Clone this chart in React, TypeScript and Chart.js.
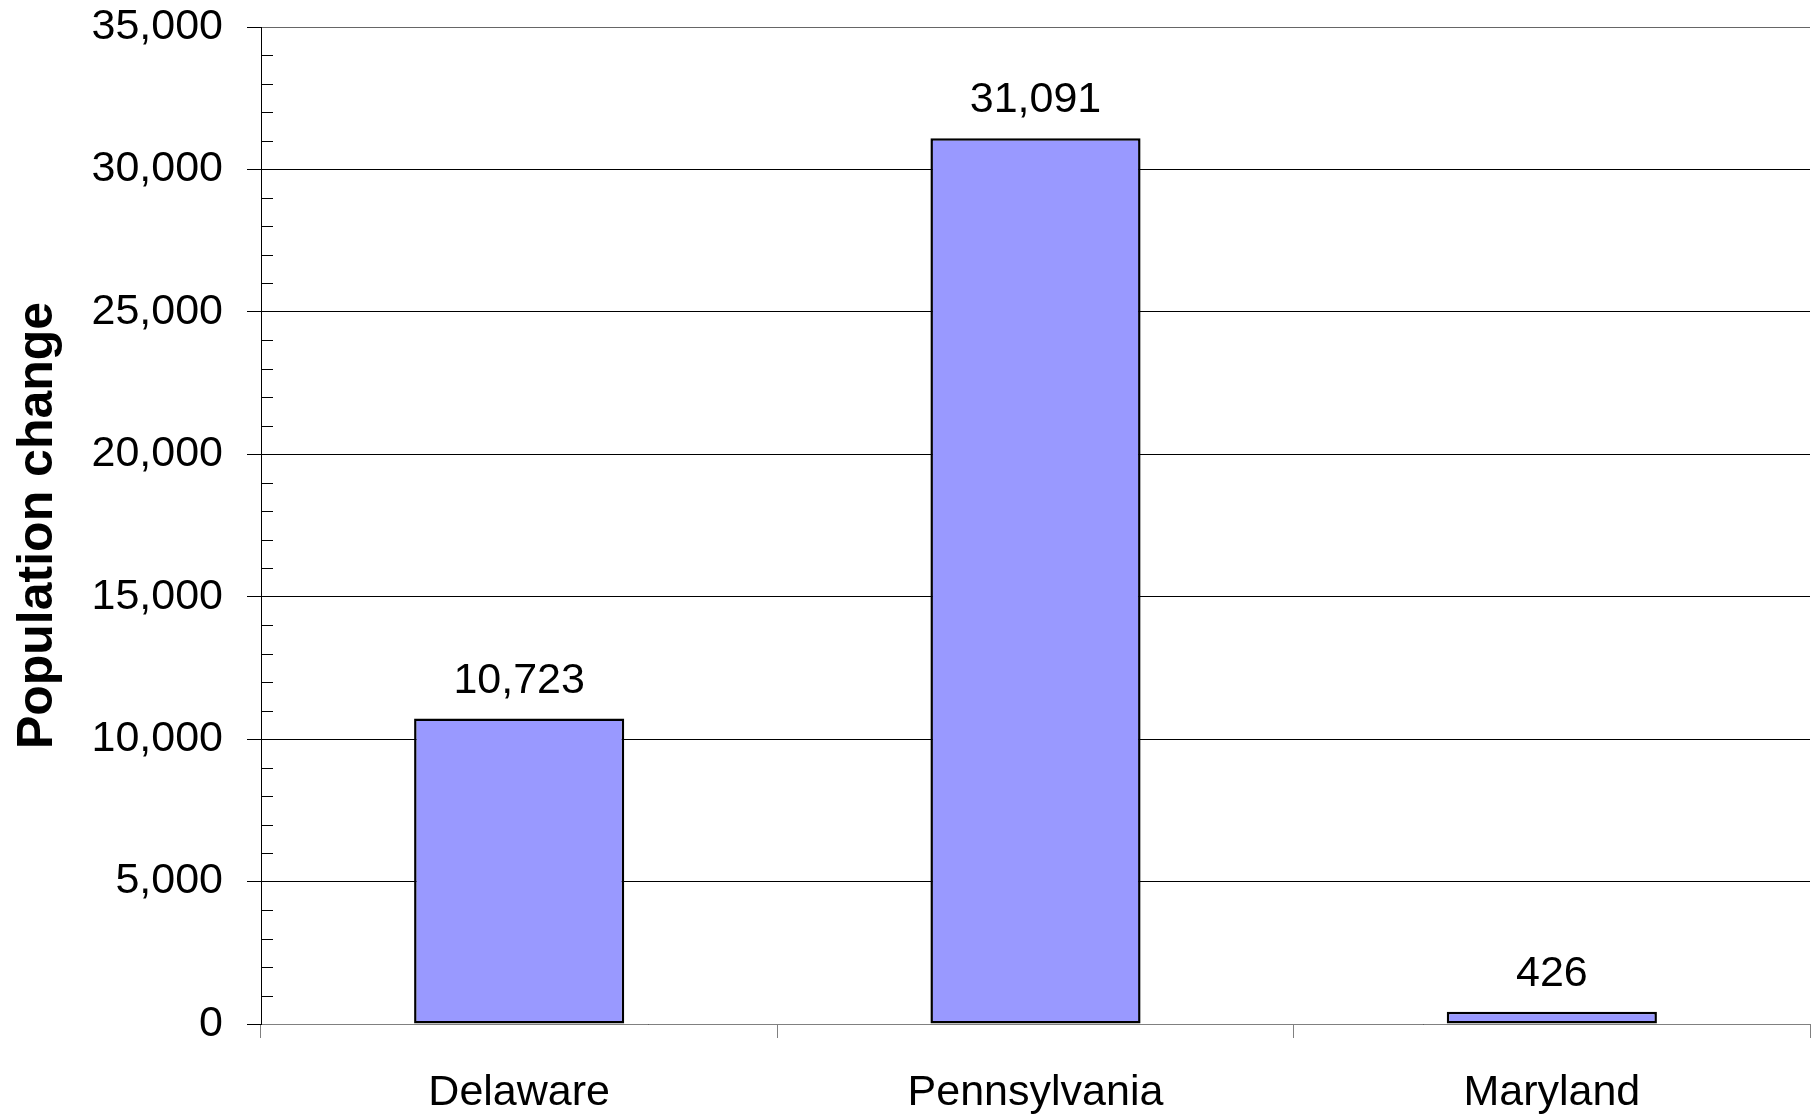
import React, { useEffect, useRef } from "react";
import { Chart, registerables } from "chart.js";

Chart.register(...registerables);

const categories = ["Delaware", "Pennsylvania", "Maryland"];
const populationChange = [10723, 31091, 426];
const yMin = 0;
const yMax = 35000;
const majorStep = 5000;
const minorStep = 1000;

const FONT = '"Liberation Sans", Arial, sans-serif';

const fmt = (v: number) => v.toLocaleString("en-US");

const dataLabelsPlugin = {
  id: "dataLabels",
  afterDatasetsDraw(chart: any) {
    const ctx = chart.ctx;
    const meta = chart.getDatasetMeta(0);
    ctx.save();
    ctx.font = `43px ${FONT}`;
    ctx.fillStyle = "#000";
    ctx.textAlign = "center";
    ctx.textBaseline = "alphabetic";
    meta.data.forEach((bar: any, i: number) => {
      const v = chart.data.datasets[0].data[i];
      ctx.fillText(fmt(v), bar.x, bar.y - 26);
    });
    ctx.restore();
  },
};

const minorTicksPlugin = {
  id: "minorTicks",
  afterDraw(chart: any) {
    const y = chart.scales.y;
    const ctx = chart.ctx;
    const left = chart.chartArea.left;
    ctx.save();
    ctx.strokeStyle = "#000";
    ctx.lineWidth = 1;
    ctx.beginPath();
    for (let v = yMin; v <= yMax; v += minorStep) {
      if (v % majorStep === 0) continue;
      const py = Math.round(y.getPixelForValue(v)) + 0.5;
      ctx.moveTo(left, py);
      ctx.lineTo(left + 12, py);
    }
    ctx.stroke();
    ctx.restore();
  },
};

export default function App() {
  const ref = useRef<HTMLCanvasElement | null>(null);

  useEffect(() => {
    if (!ref.current) return;
    Chart.defaults.font.family = FONT;
    const chart = new Chart(ref.current, {
      type: "bar",
      data: {
        labels: categories,
        datasets: [
          {
            data: populationChange,
            backgroundColor: "#9999FF",
            borderColor: "#000000",
            borderWidth: 2.5,
            borderSkipped: false,
            categoryPercentage: 1,
            barPercentage: 0.407,
          },
        ],
      },
      options: {
        animation: false,
        responsive: true,
        maintainAspectRatio: false,
        layout: { padding: { top: 27, right: 8, left: 0, bottom: 0 } },
        plugins: {
          legend: { display: false },
          tooltip: { enabled: false },
          title: { display: false },
        },
        scales: {
          x: {
            afterFit: (s: any) => {
              s.height = 90;
              s.paddingLeft = 0;
              s.paddingRight = 0;
            },
            grid: {
              display: true,
              drawOnChartArea: false,
              drawTicks: true,
              tickLength: 14,
              color: "#808080",
              offset: true,
            },
            border: { display: true, color: "#808080", width: 1 },
            ticks: {
              color: "#000",
              font: { size: 43, family: FONT },
              padding: 29,
              maxRotation: 0,
            },
          },
          y: {
            min: yMin,
            max: yMax,
            afterFit: (s: any) => {
              s.width = 261;
              s.paddingTop = 0;
              s.paddingBottom = 0;
            },
            ticks: {
              stepSize: minorStep,
              autoSkip: false,
              color: "#000",
              font: { size: 43, family: FONT },
              padding: 24,
              callback: (v: any) => (Number(v) % majorStep === 0 ? fmt(Number(v)) : ""),
            },
            grid: {
              drawTicks: true,
              tickLength: 14,
              color: (c: any) =>
                c.tick && c.tick.value % majorStep === 0
                  ? c.tick.value === yMax
                    ? "#666666"
                    : "#000000"
                  : "rgba(0,0,0,0)",
              tickColor: (c: any) =>
                c.tick && c.tick.value % majorStep === 0 ? "#000000" : "rgba(0,0,0,0)",
              lineWidth: 1,
            },
            border: { display: true, color: "#000", width: 1 },
            title: {
              display: true,
              text: "Population change",
              color: "#000",
              font: { size: 50, weight: "bold", family: FONT },
              padding: { top: 8, bottom: 0 },
            },
          },
        },
      },
      plugins: [dataLabelsPlugin, minorTicksPlugin],
    });
    return () => chart.destroy();
  }, []);

  return (
    <div style={{ position: "absolute", left: 0, top: 0, width: 1818, height: 1114, background: "#fff" }}>
      <canvas ref={ref} />
    </div>
  );
}
